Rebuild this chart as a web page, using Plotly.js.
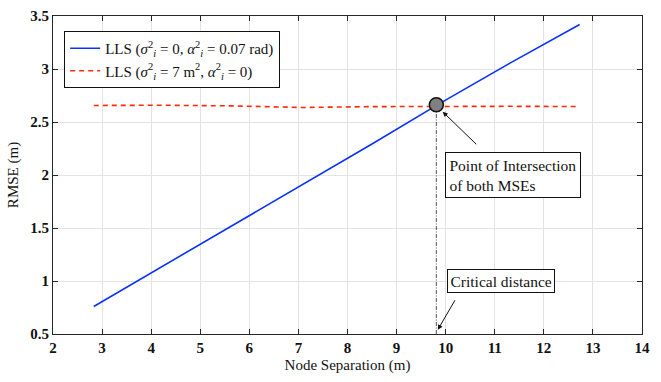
<!DOCTYPE html>
<html>
<head>
<meta charset="utf-8">
<script src="https://cdn.plot.ly/plotly-3.0.1.min.js"></script>
<style>html,body{margin:0;padding:0;background:#fff;}#chart{width:661px;height:382px;}</style>
</head>
<body>
<div id="chart"></div>
<script>
// Node separations (m)
const nodeSeparation = [2.83, 4.24, 5.66, 7.07, 8.49, 9.90, 11.31, 12.73];
// RMSE (m), LLS with angle noise only
const rmseAngleNoise = [0.76, 1.14, 1.525, 1.91, 2.29, 2.68, 3.055, 3.42];
// RMSE (m), LLS with range noise only
const rmseRangeNoise = [2.656, 2.658, 2.652, 2.637, 2.645, 2.65, 2.648, 2.646];
// Intersection / critical distance
const intersectX = [9.81];
const intersectY = [2.663];

const xTicks = [2,3,4,5,6,7,8,9,10,11,12,13,14];
const xTickText = ['2','3','4','5','6','7','8','9','10','11','12','13','14'];
const yTicks = [0.5,1,1.5,2,2.5,3,3.5];
const yTickText = ['0.5','1','1.5','2','2.5','3','3.5'];

const serif = 'Liberation Serif, Times New Roman, serif';

const traces = [
  {
    x: nodeSeparation, y: rmseAngleNoise, type: 'scatter', mode: 'lines',
    name: 'LLS (<i>σ</i><sup>2</sup><sub><i>i</i></sub> = 0, <i>α</i><sup>2</sup><sub><i>i</i></sub> = 0.07 rad)',
    line: {color: '#0a32ff', width: 1.6}
  },
  {
    x: nodeSeparation, y: rmseRangeNoise, type: 'scatter', mode: 'lines',
    name: 'LLS (<i>σ</i><sup>2</sup><sub><i>i</i></sub> = 7 m<sup>2</sup>, <i>α</i><sup>2</sup><sub><i>i</i></sub> = 0)',
    line: {color: '#ff2a0a', width: 1.6, dash: '5px,4px'}
  },
  {
    x: [intersectX[0], intersectX[0]], y: [0.5, intersectY[0]], type: 'scatter', mode: 'lines',
    showlegend: false, hoverinfo: 'skip',
    line: {color: '#222', width: 0.8, dash: '4px,1.5px,1px,1.5px'}
  },
  {
    x: intersectX, y: intersectY, type: 'scatter', mode: 'markers', showlegend: false,
    marker: {size: 14, color: '#808080', line: {color: '#111', width: 1.5}}
  }
];

const axisCommon = {
  showline: true, linecolor: '#262626', linewidth: 1, mirror: 'ticks',
  ticks: 'inside', ticklen: 5, tickcolor: '#262626', tickwidth: 1,
  showgrid: true, gridcolor: '#e3e3e3', gridwidth: 1, zeroline: false,
  tickfont: {family: serif, size: 15, color: '#111'}
};

const bold = s => '<b>' + s + '</b>';

const layout = {
  width: 661, height: 382,
  margin: {l: 53, r: 18.5, t: 15.5, b: 47.5},
  paper_bgcolor: '#fff', plot_bgcolor: '#fff',
  showlegend: true,
  legend: {
    x: 0.019, y: 0.953, xanchor: 'left', yanchor: 'top',
    bgcolor: '#fff', bordercolor: '#111', borderwidth: 1,
    font: {family: serif, size: 15, color: '#111'},
    itemwidth: 30, tracegroupgap: 0
  },
  xaxis: Object.assign({}, axisCommon, {
    range: [2, 14], tickvals: xTicks, ticktext: xTickText.map(bold),
    title: {text: 'Node Separation (m)', font: {family: serif, size: 15, color: '#111'}, standoff: 4}
  }),
  yaxis: Object.assign({}, axisCommon, {
    range: [0.5, 3.5], tickvals: yTicks, ticktext: yTickText.map(bold),
    title: {text: 'RMSE (m)', font: {family: serif, size: 15, color: '#111'}, standoff: 8}
  }),
  annotations: [
    {
      x: 9.94, y: 2.597, xref: 'x', yref: 'y', text: '', showarrow: true,
      ax: 35, ay: 34, arrowhead: 2, arrowsize: 1, arrowwidth: 1, arrowcolor: '#111'
    },
    {
      x: (445.5 - 53) / 589.5, y: 1 - (151.7 - 15.5) / 319, xref: 'paper', yref: 'paper',
      xanchor: 'left', yanchor: 'top', align: 'left', showarrow: false,
      text: 'Point of Intersection<br>of both MSEs',
      font: {family: serif, size: 15.5, color: '#111'},
      bgcolor: '#fff', bordercolor: '#111', borderwidth: 1, borderpad: 3.5
    },
    {
      x: (447.3 - 53) / 589.5, y: 1 - (269 - 15.5) / 319, xref: 'paper', yref: 'paper',
      xanchor: 'left', yanchor: 'top', align: 'left', showarrow: false,
      text: 'Critical distance',
      font: {family: serif, size: 15.5, color: '#111'},
      bgcolor: '#fff', bordercolor: '#111', borderwidth: 1, borderpad: 2.5
    },
    {
      x: 9.84, y: 0.54, xref: 'x', yref: 'y', text: '', showarrow: true,
      ax: 18, ay: -31, arrowhead: 2, arrowsize: 1, arrowwidth: 1, arrowcolor: '#111'
    }
  ]
};

Plotly.newPlot('chart', traces, layout, {staticPlot: true, displayModeBar: false});
</script>
</body>
</html>
